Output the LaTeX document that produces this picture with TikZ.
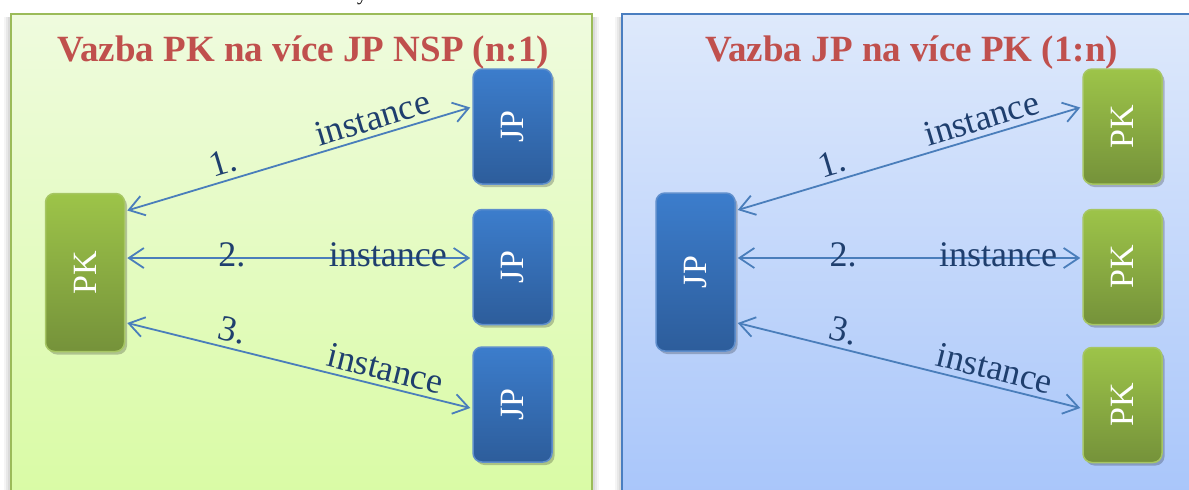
\documentclass[tikz,border=0pt]{standalone}
\usepackage{fontspec}
\setmainfont{Liberation Serif}
\usepackage{graphicx}
\usetikzlibrary{arrows.meta,shadows}

% palette
\definecolor{pnlGreenTop}{HTML}{EFFBDE}
\definecolor{pnlGreenBot}{HTML}{D8FBA2}
\definecolor{pnlGreenLine}{HTML}{9BBB59}
\definecolor{pnlBlueTop}{HTML}{DEE9FB}
\definecolor{pnlBlueBot}{HTML}{A6C4FA}
\definecolor{pnlBlueLine}{HTML}{4A7EC0}
\definecolor{boxGreenTop}{HTML}{9DC449}
\definecolor{boxGreenBot}{HTML}{75923A}
\definecolor{boxGreenLine}{HTML}{A6C663}
\definecolor{boxBlueTop}{HTML}{3C7DCC}
\definecolor{boxBlueBot}{HTML}{2D5D9B}
\definecolor{boxBlueLine}{HTML}{5E8ECC}
\definecolor{titleRed}{HTML}{C0504D}
\definecolor{linkBlue}{HTML}{4A7EBB}
\definecolor{labelNavy}{HTML}{1F3F6E}

\tikzset{
  boxbase/.style={rounded corners=9pt, line width=1.5pt, inner sep=0pt,
    minimum width=79pt, text=white, font=\fontsize{34}{34}\selectfont,
    drop shadow={shadow xshift=2.5pt, shadow yshift=-3pt, opacity=.22, fill=black}},
  pkbox/.style={boxbase, draw=boxGreenLine, top color=boxGreenTop, bottom color=boxGreenBot},
  jpbox/.style={boxbase, draw=boxBlueLine, top color=boxBlueTop, bottom color=boxBlueBot},
  tall/.style={minimum height=158pt},
  short/.style={minimum height=115pt},
  heading/.style={text=titleRed, font=\fontsize{37}{37}\selectfont\bfseries, anchor=base, inner sep=0pt},
  link/.style={draw=linkBlue, line width=1.8pt,
    {Straight Barb[length=15pt,width=20pt]}-{Straight Barb[length=15pt,width=20pt]}},
  lbl/.style={text=labelNavy, font=\fontsize{36}{36}\selectfont, sloped, inner sep=0pt},
  up/.style={lbl, above=5pt},
  on/.style={lbl, anchor=base, yshift=-8pt},
}

\begin{document}
\begin{tikzpicture}[x=1pt,y=-1pt]
\useasboundingbox (0,0) rectangle (1189,490);
\clip (0,0) rectangle (1189,490);
\fill[white] (0,0) rectangle (1189,490);

% descender of a line of text above the frame
\node[anchor=base, inner sep=0pt, font=\fontsize{20}{20}\selectfont] (stray) at (362,0) {y};

% soft shadows behind the two panels
\foreach \d/\o in {7/0.04,5/0.05,3/0.06} {
  \fill[black, opacity=\o] (11-\d,17) rectangle (592+\d,520);
  \fill[black, opacity=\o] (622-\d,17) rectangle (1210,520);
}

% left panel (n:1)
\path[draw=pnlGreenLine, line width=2.5pt, top color=pnlGreenTop, bottom color=pnlGreenBot]
  (11,14) rectangle (592,520);
% right panel (1:n)
\path[draw=pnlBlueLine, line width=2.5pt, top color=pnlBlueTop, bottom color=pnlBlueBot]
  (622,14) rectangle (1210,520);

\node[heading] (titleL) at (303,61) {Vazba PK na více JP NSP (n:1)};
\node[heading] (titleR) at (911.5,61) {Vazba JP na více PK (1:n)};

% ---- left: one PK, three JP
\node[pkbox, tall]  (pkL)  at (85,272.5)   {\rotatebox{90}{PK}};
\node[jpbox, short] (jpL1) at (512.5,126.5) {\rotatebox{90}{JP}};
\node[jpbox, short] (jpL2) at (512.5,267)   {\rotatebox{90}{JP}};
\node[jpbox, short] (jpL3) at (512.5,404.5) {\rotatebox{90}{JP}};

\draw[link] ([xshift=2pt,yshift=62pt]pkL.east) --
  node[up, pos=.295] (nL1) {1.} node[up, pos=.73] (iL1) {instance}
  ([xshift=-2pt,yshift=19pt]jpL1.west);
\draw[link] ([xshift=2pt,yshift=14.5pt]pkL.east) --
  node[on, pos=.305] (nL2) {2.} node[on, pos=.76] (iL2) {instance}
  ([xshift=-2pt,yshift=9pt]jpL2.west);
\draw[link] ([xshift=2pt,yshift=-50.5pt]pkL.east) --
  node[up, pos=.295] (nL3) {3.} node[up, pos=.74] (iL3) {instance}
  ([xshift=-2pt,yshift=-3.5pt]jpL3.west);

% ---- right: one JP, three PK
\node[jpbox, tall]  (jpR)  at (695.5,272)    {\rotatebox{90}{JP}};
\node[pkbox, short] (pkR1) at (1122.5,126.5) {\rotatebox{90}{PK}};
\node[pkbox, short] (pkR2) at (1122.5,267)   {\rotatebox{90}{PK}};
\node[pkbox, short] (pkR3) at (1122.5,405)   {\rotatebox{90}{PK}};

\draw[link] ([xshift=2pt,yshift=62pt]jpR.east) --
  node[up, pos=.29] (nR1) {1.} node[up, pos=.727] (iR1) {instance}
  ([xshift=-2pt,yshift=19pt]pkR1.west);
\draw[link] ([xshift=2pt,yshift=14pt]jpR.east) --
  node[on, pos=.308] (nR2) {2.} node[on, pos=.76] (iR2) {instance}
  ([xshift=-2pt,yshift=9pt]pkR2.west);
\draw[link] ([xshift=2pt,yshift=-51pt]jpR.east) --
  node[up, pos=.297] (nR3) {3.} node[up, pos=.738] (iR3) {instance}
  ([xshift=-2pt,yshift=-3pt]pkR3.west);
\end{tikzpicture}
\end{document}
